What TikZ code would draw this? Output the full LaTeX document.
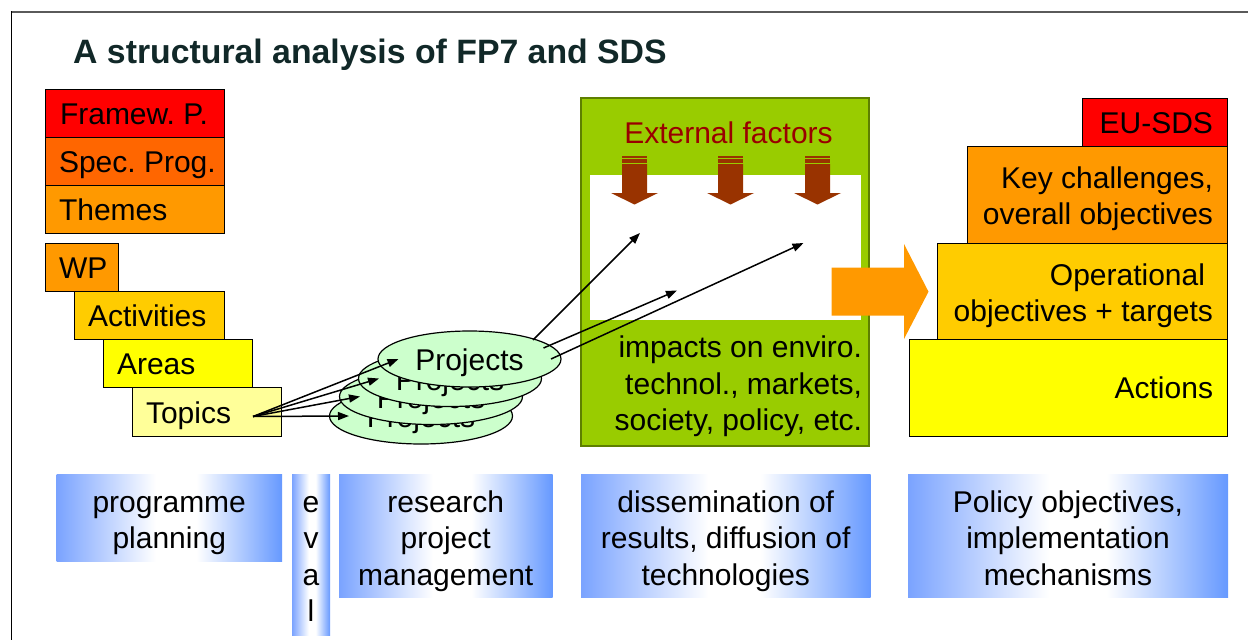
\documentclass[tikz,border=0pt]{standalone}
\usepackage{fontspec}
\setmainfont{Liberation Sans}
\usetikzlibrary{shapes.geometric,arrows.meta,calc}
\frenchspacing

\definecolor{fpred}{HTML}{FF0000}
\definecolor{fpdarkorange}{HTML}{FF6600}
\definecolor{fporange}{HTML}{FF9900}
\definecolor{fpgold}{HTML}{FFCC00}
\definecolor{fpyellow}{HTML}{FFFF00}
\definecolor{fppale}{HTML}{FFFF99}
\definecolor{projgreen}{HTML}{CCFFCC}
\definecolor{impactgreen}{HTML}{99CC00}
\definecolor{impactedge}{HTML}{5E7F00}
\definecolor{factorbrown}{HTML}{993300}
\definecolor{factortext}{HTML}{990000}
\definecolor{titleink}{HTML}{112828}
\definecolor{framegray}{HTML}{5A5A5A}
\definecolor{barblueL}{HTML}{7AA3FF}
\definecolor{barblueR}{HTML}{6699FF}

% blue -> white -> blue band used for the phase boxes
\pgfdeclarehorizontalshading{phasebar}{100bp}{color(0bp)=(barblueL); color(25bp)=(barblueL); color(47bp)=(white); color(56bp)=(white); color(75bp)=(barblueR); color(100bp)=(barblueR)}

% fixed height for the first line of multi-line labels
\newcommand\firstline{\rule{0pt}{30pt}}

\begin{document}
\begin{tikzpicture}[x=1pt,y=-1pt,
  lvl/.style={draw=black, line width=1pt, inner sep=0pt, outer sep=0pt, anchor=north west},
  txt/.style={inner sep=0pt, outer sep=0pt, font=\fontsize{30pt}{36.5pt}\selectfont},
  phase/.style={shading=phasebar, inner sep=0pt, outer sep=0pt, anchor=north west},
  proj/.style={ellipse, draw=black, line width=1.2pt, fill=projgreen,
    minimum width=183pt, minimum height=56pt, inner sep=0pt,
    text height=23pt, text depth=0pt, font=\fontsize{30pt}{36pt}\selectfont},
  link/.style={line width=1.5pt, -{Triangle[length=11pt,width=8pt]}}
]
\useasboundingbox (0,0) rectangle (1248,640);

% slide frame
\draw[framegray, line width=2pt] (10.5,12) -- (1248,12);
\draw[black, line width=1.5pt] (11.5,11) -- (11.5,640);

% title
\node[anchor=base west, inner sep=0pt, text=titleink,
      font=\fontsize{33.8pt}{40pt}\selectfont\bfseries] (title) at (73,63)
      {A structural analysis of FP7 and SDS};

% ---- programme hierarchy ----
\node[lvl, fill=fpred,        minimum width=179pt,   minimum height=48pt] (fw)  at (45,89) {};
\node[lvl, fill=fpdarkorange, minimum width=179pt,   minimum height=48pt] (sp)  at (45,137) {};
\node[lvl, fill=fporange,     minimum width=179pt,   minimum height=48pt] (th)  at (45,185) {};
\node[lvl, fill=fporange,     minimum width=73pt,    minimum height=48pt] (wp)  at (45,243.5) {};
\node[lvl, fill=fpgold,       minimum width=149.5pt, minimum height=48pt] (act) at (74.5,291.5) {};
\node[lvl, fill=fpyellow,     minimum width=149.5pt, minimum height=48pt] (ar)  at (103,339.5) {};
\node[lvl, fill=fppale,       minimum width=149.5pt, minimum height=48.5pt] (tp) at (132,387.5) {};

\node[txt, anchor=base west] (t-fw)  at (60,124.5)  {Framew. P.};
\node[txt, anchor=base west] (t-sp)  at (59,172.5)  {Spec. Prog.};
\node[txt, anchor=base west] (t-th)  at (59,220.5)  {Themes};
\node[txt, anchor=base west] (t-wp)  at (59,278.5)  {WP};
\node[txt, anchor=base west] (t-act) at (88,326.5)  {Activities};
\node[txt, anchor=base west] (t-ar)  at (117,374.5) {Areas};
\node[txt, anchor=base west] (t-tp)  at (146,423)   {Topics};

% ---- impacts panel ----
\node[draw=impactedge, line width=1.2pt, fill=impactgreen, inner sep=0pt, outer sep=0pt,
      anchor=north west, minimum width=288pt, minimum height=348pt] (imp) at (581,98) {};
\node[fill=white, inner sep=0pt, outer sep=0pt, anchor=north west,
      minimum width=271pt, minimum height=145pt] (field) at (590,175) {};
\node[txt, anchor=base, text=factortext] (t-ext) at (728.5,143) {External factors};

\foreach \c in {634.5,730.5,817.5}{
  \fill[factorbrown] (\c-12.5,155.7) rectangle (\c+12.5,157.7);
  \fill[factorbrown] (\c-12.5,159.3) rectangle (\c+12.5,162.7);
  \fill[factorbrown] (\c-12.5,164) -- (\c+12.5,164) -- (\c+12.5,193) -- (\c+23.5,193)
        -- (\c,204.5) -- (\c-23.5,193) -- (\c-12.5,193) -- cycle;
}

\node[txt, anchor=north east, align=right] (t-imp) at (862,327.5)
  {\firstline impacts on enviro.\\technol., markets,\hspace*{8pt}\\society, policy, etc.};

% ---- projects ----
\node[proj] (p4) at (421,416)   {Projects};
\node[proj] (p3) at (431,396.5) {Projects};
\node[proj] (p2) at (450,378.5) {Projects};
\node[proj] (p1) at (469.5,359) {Projects};

\coordinate (tpout) at (253,416.5);
\draw[link] (tpout) -- ($(p1.center)+(-71,0)$);
\draw[link] (tpout) -- ($(p2.center)+(-71,0)$);
\draw[link] (tpout) -- ($(p3.center)+(-71,0)$);
\draw[link] (tpout) -- ($(p4.center)+(-72,0)$);

\coordinate (fx1) at (640,233);
\coordinate (fx2) at (677,290.5);
\coordinate (fx3) at (803.5,243);
\draw[link] ($(p1.center)+(63.5,-19)$) -- (fx1);
\draw[link] ($(p1.center)+(74,-11)$)   -- (fx2);
\draw[link] ($(p1.center)+(81.5,0)$)   -- (fx3);

% ---- policy hierarchy ----
\node[lvl, fill=fpred,    minimum width=144.5pt, minimum height=48pt] (eu)  at (1082.5,98) {};
\node[lvl, fill=fporange, minimum width=260pt,   minimum height=97pt] (key) at (967,146) {};
\node[lvl, fill=fpgold,   minimum width=290pt,   minimum height=96pt] (op)  at (937,243) {};
\node[lvl, fill=fpyellow, minimum width=318pt,   minimum height=97pt] (acn) at (909,339) {};

\node[txt, anchor=base east] (t-eu) at (1213,133) {EU-SDS};
\node[txt, anchor=north east, align=right] (t-key) at (1213,158.3)
  {\firstline Key challenges,\\overall objectives};
\node[txt, anchor=north east, align=right] (t-op) at (1213,255)
  {\firstline Operational\hspace*{8pt}\\objectives + targets};
\node[txt, anchor=base east] (t-acn) at (1213,398) {Actions};

% transfer arrow into the policy side
\fill[fporange] (831.7,267.7) -- (904,267.7) -- (904,244) -- (928.5,291.7)
  -- (904,339) -- (904,315.7) -- (831.7,315.7) -- cycle;

% ---- phases ----
\node[phase, minimum width=225.5pt, minimum height=87pt]  (ph1) at (56.5,474) {};
\node[phase, minimum width=38pt,    minimum height=161pt] (ph2) at (292,474) {};
\node[phase, minimum width=213.5pt, minimum height=123pt] (ph3) at (339,474) {};
\node[phase, minimum width=289.5pt, minimum height=123pt] (ph4) at (581,474) {};
\node[phase, minimum width=320pt,   minimum height=123pt] (ph5) at (908,474) {};

\node[txt, anchor=north, align=center] (t-ph1) at (169.25,482) {\firstline programme\\planning};
\node[txt, anchor=north, align=center] (t-ph2) at (311,482)    {\firstline e\\v\\a\\l};
\node[txt, anchor=north, align=center] (t-ph3) at (445.75,482) {\firstline research\\project\\management};
\node[txt, anchor=north, align=center] (t-ph4) at (725.75,482) {\firstline dissemination of\\results, diffusion of\\technologies};
\node[txt, anchor=north, align=center] (t-ph5) at (1068,482)   {\firstline Policy objectives,\\implementation\\mechanisms};
\end{tikzpicture}
\end{document}
